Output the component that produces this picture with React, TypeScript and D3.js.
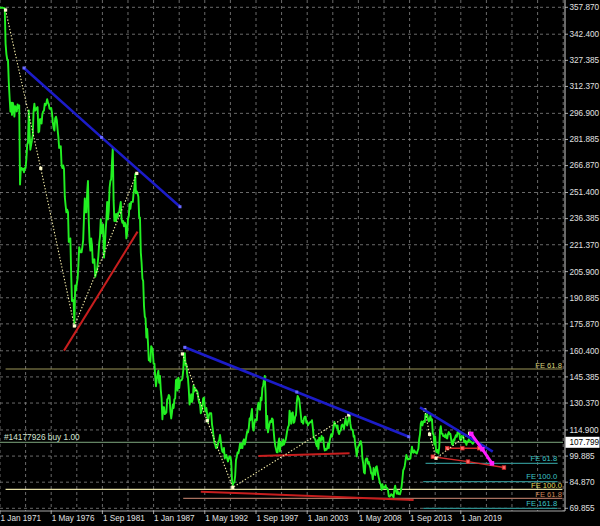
import React from "react";
import * as d3 from "d3";

// ---------- DATA ----------
const SERIES_START = "1971-01";

const USDJPY_1970S = [
  357.8, 357.6, 357.6, 357.6, 357.5, 357.4, 357.4, 337.0, 331.0, 328.0, 327.5, 314.8,
  306.0, 298.0, 303.0, 296.0, 303.0, 301.0, 295.0, 301.0, 300.0, 298.0, 302.0, 300.0,
  301.5, 256.0, 264.5, 265.5, 264.5, 265.0, 263.0, 265.5, 265.5, 271.0, 279.0, 280.0,
  298.5, 285.0, 276.0, 279.0, 281.5, 284.5, 298.0, 302.5, 298.5, 299.0, 300.0, 300.5,
  286.0, 286.5, 293.5, 293.5, 291.0, 296.5, 298.0, 298.5, 302.5, 301.5, 303.0, 305.0,
  303.0, 302.0, 299.5, 299.5, 300.0, 297.0, 292.0, 288.5, 287.0, 294.0, 295.0, 293.0,
  287.5, 283.0, 277.0, 277.5, 278.0, 267.0, 265.5, 267.0, 265.0, 249.0, 244.0, 240.0,
  241.5, 240.0, 223.0, 224.0, 225.0, 204.5, 189.0, 190.0, 189.0, 176.0, 198.0, 195.0,
  199.0, 202.0, 209.0, 220.0, 218.0, 217.0, 217.0, 220.0, 224.0, 237.0, 248.0, 240.0,
];
const USDJPY_1980S = [
  240.0, 252.0, 258.0, 235.0, 223.0, 218.0, 225.0, 221.0, 211.0, 211.0, 213.0, 203.0,
  205.0, 206.0, 210.0, 215.0, 222.0, 226.0, 236.0, 228.0, 230.0, 233.0, 214.0, 220.0,
  229.0, 236.0, 246.0, 236.0, 241.0, 254.0, 258.0, 259.0, 269.0, 277.0, 247.0, 235.0,
  239.0, 235.0, 239.0, 237.0, 240.0, 240.0, 243.0, 246.0, 236.0, 234.0, 235.0, 232.0,
  234.0, 233.0, 225.0, 228.0, 236.0, 238.0, 245.0, 242.0, 246.0, 246.0, 246.0, 251.0,
  254.0, 262.0, 251.0, 252.0, 251.0, 249.0, 237.0, 237.0, 217.0, 211.0, 202.0, 200.5,
  186.0, 180.0, 179.0, 168.0, 173.0, 165.0, 155.0, 155.0, 154.0, 163.0, 162.0, 160.0,
  153.0, 153.0, 146.0, 140.0, 144.0, 147.0, 149.0, 142.0, 146.0, 138.0, 133.0, 121.0,
  128.0, 128.0, 124.0, 124.5, 125.0, 132.5, 133.0, 135.0, 134.0, 125.5, 121.5, 125.0,
  129.5, 127.5, 132.5, 133.0, 143.5, 144.0, 137.5, 145.0, 139.0, 143.0, 143.5, 143.5,
];
const USDJPY_1990S = [
  144.5, 149.0, 157.5, 159.0, 152.0, 152.5, 147.0, 144.5, 138.0, 129.5, 132.0, 135.5,
  131.0, 133.0, 140.5, 137.0, 138.5, 138.0, 137.5, 136.5, 133.0, 130.5, 130.0, 124.5,
  126.0, 129.0, 133.0, 133.5, 128.0, 125.5, 127.5, 123.5, 119.5, 123.0, 124.5, 124.5,
  124.5, 118.0, 115.5, 111.0, 107.5, 106.5, 104.5, 104.5, 106.0, 108.0, 109.0, 112.0,
  108.5, 104.5, 102.5, 102.0, 104.5, 98.5, 100.0, 100.5, 98.5, 96.8, 98.5, 99.7,
  99.5, 96.5, 86.5, 83.0, 84.5, 84.7, 88.5, 97.5, 99.5, 102.0, 101.5, 103.5,
  107.0, 104.5, 107.0, 104.5, 108.5, 109.5, 106.5, 108.5, 111.5, 114.0, 113.5, 116.0,
  121.5, 120.5, 124.0, 127.0, 116.5, 114.5, 118.5, 121.0, 120.5, 120.5, 127.5, 130.5,
  127.0, 126.5, 133.5, 132.0, 139.0, 140.5, 144.0, 146.0, 135.5, 116.0, 123.0, 113.5,
  116.0, 118.5, 120.0, 119.5, 121.5, 121.0, 115.0, 109.5, 106.0, 104.0, 102.0, 102.0,
];
const USDJPY_2000S = [
  107.5, 110.0, 102.5, 108.0, 107.5, 106.0, 109.5, 106.5, 108.0, 109.0, 111.5, 114.5,
  116.5, 117.5, 126.0, 123.5, 118.5, 124.5, 125.0, 119.0, 119.5, 122.5, 123.5, 131.0,
  134.5, 133.5, 132.5, 128.5, 124.0, 119.5, 120.0, 118.5, 121.5, 122.5, 122.5, 119.0,
  119.5, 117.5, 118.5, 119.0, 119.5, 119.5, 120.5, 116.5, 111.5, 110.0, 109.5, 107.0,
  105.5, 109.0, 104.0, 110.5, 109.5, 108.5, 111.5, 109.5, 110.5, 105.5, 103.0, 104.0,
  103.5, 104.5, 107.0, 104.5, 108.5, 110.5, 112.5, 111.0, 113.5, 116.5, 119.5, 118.0,
  117.5, 116.0, 117.5, 113.5, 112.5, 114.5, 114.5, 117.5, 118.0, 117.0, 115.5, 119.0,
  121.5, 118.5, 117.5, 119.5, 121.5, 123.0, 118.5, 115.5, 115.0, 115.0, 111.0, 111.5,
  106.5, 103.5, 99.7, 104.0, 105.5, 106.0, 108.0, 108.5, 106.0, 98.5, 95.5, 90.5,
  89.9, 97.5, 98.5, 98.5, 95.5, 96.5, 94.5, 93.0, 89.8, 90.0, 86.5, 93.0,
];
const USDJPY_2010S = [
  90.3, 89.0, 93.5, 94.0, 91.2, 88.4, 86.5, 84.2, 83.5, 80.4, 83.7, 81.2,
  82.1, 81.8, 83.1, 81.2, 81.5, 80.5, 76.8, 76.6, 77.0, 78.0, 77.6, 76.9,
  76.2, 81.0, 82.8, 79.8, 78.3, 79.8, 78.1, 78.4, 77.9, 79.8, 82.5, 86.7,
  91.7, 92.6, 94.2, 97.5, 100.5, 99.1, 97.9, 98.2, 98.2, 98.4, 102.4, 105.3,
  102.0, 101.8, 103.2, 102.2, 101.8, 101.3, 102.8, 104.1, 109.6, 112.3, 118.6, 119.8,
  117.5, 119.6, 120.1, 119.4, 124.1, 122.5, 123.9, 121.2, 119.8, 120.6, 123.1, 120.2,
  121.0, 112.6, 112.5, 106.5, 111.1, 103.2, 102.1, 103.4, 101.3, 104.8, 114.5, 117.0,
  112.8, 112.8, 111.4, 111.5, 110.8, 112.4, 110.3, 110.0, 112.5, 113.7, 112.5, 112.7,
  109.2, 106.7, 106.3, 109.4, 108.8, 110.7, 111.9, 111.0, 113.7, 112.9, 113.6, 109.7,
  108.9, 111.4, 110.9, 111.4, 108.3, 107.8, 108.7, 106.3, 108.1, 108.0, 109.5, 108.6,
];
const USDJPY_2020S = [108.4, 107.9, 107.5, 106.9, 107.8, 107.8];

const PRICE_TICKS = [
  357.87, 342.4, 327.385, 312.37, 296.9, 281.885, 266.87, 251.4, 236.385, 221.37,
  205.9, 190.885, 175.87, 160.4, 145.385, 130.37, 114.9, 99.885, 84.87, 69.855,
];
const DATE_TICKS = [
  "1971-01", "1976-05", "1981-09", "1987-01", "1992-05",
  "1997-09", "2003-01", "2008-05", "2013-09", "2019-01",
];
const DATE_TICK_LABELS = [
  "1 Jan 1971", "1 May 1976", "1 Sep 1981", "1 Jan 1987", "1 May 1992",
  "1 Sep 1997", "1 Jan 2003", "1 May 2008", "1 Sep 2013", "1 Jan 2019",
];

const CURRENT_PRICE = 107.799;
const ORDER_LABEL = "#14177926 buy 1.00";

const BLUE_TRENDS: [string, number][][] = [
  [["1973-07", 323.0], ["1981-08", 283.1], ["1989-10", 243.2]],
  [["1990-04", 162.4], ["2001-12", 136.7], ["2013-08", 111.0]],
  [["2014-10", 127.9], ["2022-05", 102.5]],
];
const BLUE_DOTTED = [true, true, false];

const RED_TRENDS: [string, number][][] = [
  [["1977-09", 160.5], ["1985-05", 228.9]],
  [["1997-12", 99.9], ["2007-06", 101.5]],
  [["1991-12", 79.4], ["2014-02", 74.6]],
];
const RED_MARKED: [string, number][][] = [
  [["2017-08", 104.4], ["2019-03", 104.4], ["2020-12", 104.4]],
  [["2016-02", 99.5], ["2019-10", 96.7], ["2023-07", 93.3]],
];
const ZIGZAGS: [string, number][][] = [
  [["1971-08", 356.3], ["1975-04", 265.3], ["1978-10", 174.7], ["1985-04", 262.4]],
  [["1990-01", 158.6], ["1992-08", 120.2], ["1995-04", 81.9], ["2007-05", 123.5]],
  [["2015-04", 126.4], ["2015-10", 112.4], ["2016-06", 98.6], ["2019-12", 113.0]],
];
const MAGENTA_PATH: [string, number][] = [["2020-02", 112.6], ["2021-04", 103.8], ["2022-04", 95.7]];

const FE_LABELS = ["FE 61.8", "FE 61.8", "FE 100.0", "FE 100.0", "FE 61.8", "FE 161.8"];
const FE_PRICES = [149.93, 95.72, 85.14, 80.77, 75.6, 69.86];
const FE_FROM = ["1971-08", "2015-05", "2015-02", "1971-08", "1990-02", "2015-02"];
const FE_TO = ["2029-08", "2029-02", "2029-02", "2029-08", "2029-08", "2029-02"];
const FE_KIND = ["khaki", "cyan", "cyan", "yellow", "brown", "cyan"];

// ---------- COMPONENT ----------
const W = 600;
const H = 526;
const PLOT_R = 563;
const PLOT_B = 511;
const FONT = "'Liberation Sans', Arial, sans-serif";

const KIND_STYLE: Record<string, { line: string; text: string; lift: number }> = {
  khaki: { line: "#9c9658", text: "#d8d27c", lift: 1.4 },
  cyan: { line: "#2e8c8c", text: "#3cc6c6", lift: 2.3 },
  yellow: { line: "#e6e0a6", text: "#e4dc5c", lift: 1.0 },
  brown: { line: "#a8705e", text: "#cf8656", lift: 1.2 },
};

export default function App() {
  const parse = d3.timeParse("%Y-%m");
  const start = parse(SERIES_START) as Date;
  const x = d3.scaleTime().domain([parse("1971-01") as Date, parse("2029-09") as Date]).range([0, 563.2]);
  const y = d3.scaleLinear().domain([69.855, 357.87]).range([508.3, 7.3]);

  const closes = [...USDJPY_1970S, ...USDJPY_1980S, ...USDJPY_1990S, ...USDJPY_2000S, ...USDJPY_2010S, ...USDJPY_2020S];
  const series = closes.map((v, i) => ({ d: d3.timeMonth.offset(start, i), v }));
  const line = d3.line<{ d: Date; v: number }>().x((p) => x(p.d)).y((p) => y(p.v));
  const pl = d3.line<[string, number]>().x((p) => x(parse(p[0]) as Date)).y((p) => y(p[1]));
  const px = (p: [string, number]) => x(parse(p[0]) as Date);
  const py = (p: [string, number]) => y(p[1]);

  const vGrid = d3.range(0, 23).map((k) => x(d3.timeMonth.offset(start, 32 * k)));
  const fmt = d3.format(".3f");

  const sq = (cx: number, cy: number, s: number, fill: string, stroke?: string, key?: string) => (
    <rect key={key} x={cx - s / 2} y={cy - s / 2} width={s} height={s} fill={fill} stroke={stroke || "none"} strokeWidth={stroke ? 0.8 : 0} />
  );

  return (
    <div>
      <style>{"body{margin:0;background:#000}"}</style>
      <svg width={W} height={H} style={{ display: "block", background: "#000" }} fontFamily={FONT}>
        <defs>
          <clipPath id="plot">
            <rect x={0} y={0} width={PLOT_R} height={PLOT_B} />
          </clipPath>
        </defs>
        <rect x={0} y={0} width={W} height={H} fill="#000" />

        {/* grid */}
        <g stroke="#858585" strokeWidth={0.8} strokeDasharray="3,3">
          {PRICE_TICKS.map((t) => (
            <line key={"h" + t} x1={0} x2={PLOT_R} y1={y(t)} y2={y(t)} />
          ))}
          {vGrid.map((gx, i) => (
            <line key={"v" + i} x1={gx} x2={gx} y1={0} y2={PLOT_B} />
          ))}
        </g>

        <g clipPath="url(#plot)">
          {/* FE horizontal levels */}
          {FE_PRICES.map((p, i) => (
            <line
              key={"fe" + i}
              x1={x(parse(FE_FROM[i]) as Date)}
              x2={x(parse(FE_TO[i]) as Date)}
              y1={y(p)}
              y2={y(p)}
              stroke={KIND_STYLE[FE_KIND[i]].line}
              strokeWidth={1.2}
            />
          ))}
          {/* order line */}
          <line x1={0} x2={PLOT_R} y1={y(CURRENT_PRICE)} y2={y(CURRENT_PRICE)} stroke="#7fa87f" strokeWidth={1} />

          {/* price */}
          <path d={line(series) || ""} fill="none" stroke="#22f022" strokeWidth={1.9} strokeLinejoin="round" />

          {/* red trend lines */}
          {RED_TRENDS.map((t, i) => (
            <path key={"r" + i} d={pl(t) || ""} stroke="#c81e1e" strokeWidth={2} fill="none" />
          ))}
          {RED_MARKED.map((t, i) => (
            <g key={"rm" + i}>
              <path d={pl(t) || ""} stroke="#d42a2a" strokeWidth={1.4} fill="none" />
              {t.map((p, j) => sq(px(p), py(p), 3.5, "#ff6a6a", "#d42a2a", "rmq" + j))}
            </g>
          ))}

          {/* zigzags */}
          {ZIGZAGS.map((z, i) => (
            <g key={"z" + i}>
              <path d={pl(z) || ""} stroke="#f4eca8" strokeWidth={1.1} strokeDasharray="1.4,1.8" fill="none" />
              {z.map((p, j) => sq(px(p), py(p), 3.2, "#fffcd0", undefined, "zq" + j))}
            </g>
          ))}

          {/* blue trend lines */}
          {BLUE_TRENDS.map((t, i) => (
            <g key={"b" + i}>
              <path d={pl(t) || ""} stroke="#1c1cc8" strokeWidth={2.6} fill="none" />
              {BLUE_DOTTED[i] && t.map((p, j) => sq(px(p), py(p), 3, "#6a6aff", undefined, "bq" + j))}
            </g>
          ))}

          {/* magenta projection */}
          <path d={pl(MAGENTA_PATH) || ""} stroke="#ff1cff" strokeWidth={3} fill="none" />
          {MAGENTA_PATH.map((p, j) => sq(px(p), py(p), 4.5, "#ff1cff", undefined, "mq" + j))}
        </g>

        {/* FE labels */}
        {FE_PRICES.map((p, i) => (
          <text
            key={"fel" + i}
            x={x(parse(FE_TO[i]) as Date) - 0.5}
            y={y(p) - KIND_STYLE[FE_KIND[i]].lift}
            textAnchor="end"
            fontSize={7.6}
            fill={KIND_STYLE[FE_KIND[i]].text}
          >
            {FE_LABELS[i]}
          </text>
        ))}
        <text x={4} y={y(CURRENT_PRICE) - 2.2} fontSize={8.3} fill="#d4e4d4">
          {ORDER_LABEL}
        </text>

        {/* right axis */}
        <line x1={565} x2={565} y1={0} y2={PLOT_B} stroke="#d0d0d0" strokeWidth={1} />
        {PRICE_TICKS.map((t) => (
          <g key={"pt" + t}>
            <line x1={565} x2={568} y1={y(t)} y2={y(t)} stroke="#d0d0d0" strokeWidth={0.8} />
            <text x={569.5} y={y(t)} dy="0.35em" fontSize={8.2} fill="#e0e0e0">
              {fmt(t)}
            </text>
          </g>
        ))}
        <rect x={565.5} y={y(CURRENT_PRICE) - 5.5} width={34} height={11} fill="#ffffff" />
        <text x={569.5} y={y(CURRENT_PRICE)} dy="0.35em" fontSize={8.2} fill="#000">
          {fmt(CURRENT_PRICE)}
        </text>

        {/* bottom axis */}
        <line x1={0} x2={565} y1={PLOT_B} y2={PLOT_B} stroke="#d0d0d0" strokeWidth={0.8} />
        {DATE_TICKS.map((d, i) => {
          const tx = x(parse(d) as Date);
          return (
            <g key={"dt" + d}>
              <line x1={tx} x2={tx} y1={PLOT_B} y2={PLOT_B + 3} stroke="#d0d0d0" strokeWidth={0.8} />
              <text x={tx + 0.5} y={521} fontSize={8.2} fill="#e0e0e0">
                {DATE_TICK_LABELS[i]}
              </text>
            </g>
          );
        })}
      </svg>
    </div>
  );
}
